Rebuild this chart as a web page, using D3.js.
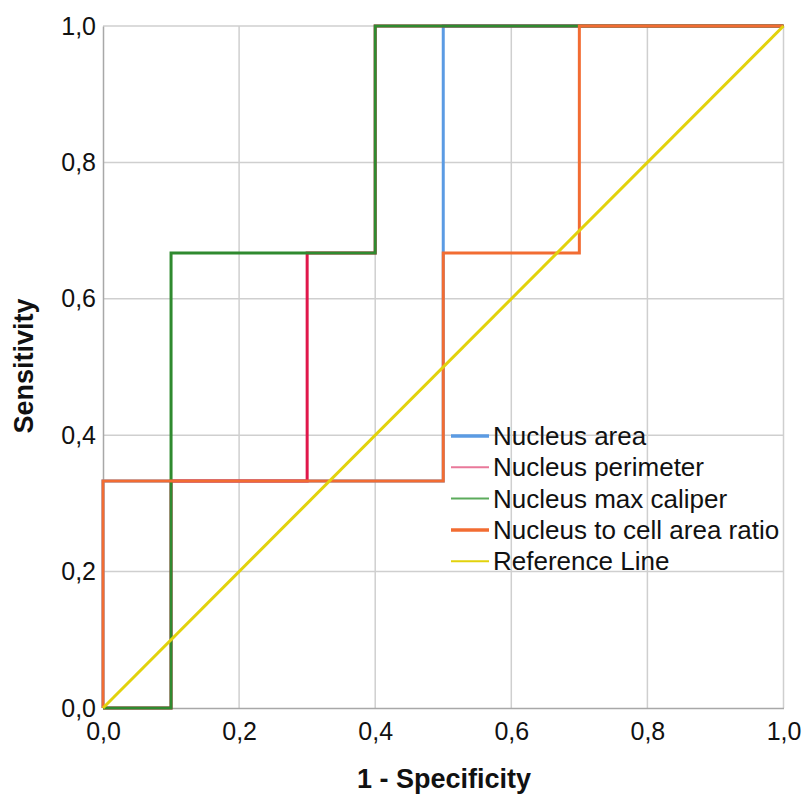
<!DOCTYPE html>
<html><head><meta charset="utf-8">
<script src="https://cdn.jsdelivr.net/npm/d3@7"></script>
<style>body{margin:0;background:#fff;} text{font-family:"Liberation Sans",Arial,Helvetica,sans-serif;}</style>
</head><body>
<svg id="c" width="806" height="794"></svg>
<script>
const ticks = [0, 0.2, 0.4, 0.6, 0.8, 1.0];
const names = ["Nucleus area", "Nucleus perimeter", "Nucleus max caliper", "Nucleus to cell area ratio", "Reference Line"];
const colors = ["#5b9be3", "#e0174b", "#2f8a2f", "#f26c32", "#e2d20c"];
const legendColors = ["#5b9be3", "#e9789a", "#5cab5c", "#f26c32", "#e2d20c"];
const legendWidths = [3.5, 2, 2, 3.5, 2];
const areaX = [0, 0, 0.5, 0.5, 1];
const areaY = [0, 0.333, 0.333, 1, 1];
const perimX = [0, 0.1, 0.1, 0.3, 0.3, 0.4, 0.4, 1];
const perimY = [0, 0, 0.333, 0.333, 0.667, 0.667, 1, 1];
const caliperX = [0, 0.1, 0.1, 0.4, 0.4, 1];
const caliperY = [0, 0, 0.667, 0.667, 1, 1];
const ratioX = [0, 0, 0.5, 0.5, 0.7, 0.7, 1];
const ratioY = [0, 0.333, 0.333, 0.667, 0.667, 1, 1];
const refX = [0, 1];
const refY = [0, 1];

const series = [[areaX, areaY], [perimX, perimY], [caliperX, caliperY], [ratioX, ratioY], [refX, refY]];

const svg = d3.select("#c");
const x = d3.scaleLinear().domain([0, 1]).range([103, 783.5]);
const y = d3.scaleLinear().domain([0, 1]).range([708, 26]);
const fmt = d => d3.format(".1f")(d).replace(".", ",");

// gridlines
svg.append("g").selectAll("line").data(ticks.slice(1))
  .join("line").attr("x1", d => x(d)).attr("x2", d => x(d)).attr("y1", y(0)).attr("y2", y(1))
  .attr("stroke", "#cfcfcf").attr("stroke-width", 1.5);
svg.append("g").selectAll("line").data(ticks.slice(1))
  .join("line").attr("y1", d => y(d)).attr("y2", d => y(d)).attr("x1", x(0)).attr("x2", x(1))
  .attr("stroke", "#cfcfcf").attr("stroke-width", 1.5);

// axes
const xAxis = svg.append("g").attr("transform", `translate(0,${y(0)})`)
  .call(d3.axisBottom(x).tickValues(ticks).tickFormat(fmt).tickSize(0).tickPadding(14));
const yAxis = svg.append("g").attr("transform", `translate(${x(0)},0)`)
  .call(d3.axisLeft(y).tickValues(ticks).tickFormat(fmt).tickSize(0).tickPadding(7));
[xAxis, yAxis].forEach(a => {
  a.select(".domain").attr("stroke", "#a8a8a8").attr("stroke-width", 1.5);
  a.selectAll("text").attr("font-size", 25).attr("fill", "#111").attr("font-family", "Liberation Sans, Arial, sans-serif");
});

// lines
const line = d3.line().x(d => x(d[0])).y(d => y(d[1]));
series.forEach((s, i) => {
  const pts = s[0].map((v, j) => [v, s[1][j]]);
  svg.append("path").datum(pts).attr("d", line).attr("fill", "none")
    .attr("stroke", colors[i]).attr("stroke-width", 3).attr("stroke-linejoin", "miter");
});

// axis titles
svg.append("text").attr("x", 444).attr("y", 788).attr("text-anchor", "middle")
  .attr("font-size", 27).attr("font-weight", "bold").attr("fill", "#111").text("1 - Specificity");
svg.append("text").attr("transform", `translate(33,366) rotate(-90)`).attr("text-anchor", "middle")
  .attr("font-size", 27).attr("font-weight", "bold").attr("fill", "#111").text("Sensitivity");

// legend
const lg = svg.append("g").attr("transform", "translate(451,436)");
names.forEach((n, i) => {
  const gy = i * 31.3;
  lg.append("line").attr("x1", 0).attr("x2", 38).attr("y1", gy).attr("y2", gy)
    .attr("stroke", legendColors[i]).attr("stroke-width", legendWidths[i]);
  lg.append("text").attr("x", 42).attr("y", gy + 9).attr("font-size", 26).attr("fill", "#111").text(n);
});
</script>
</body></html>
